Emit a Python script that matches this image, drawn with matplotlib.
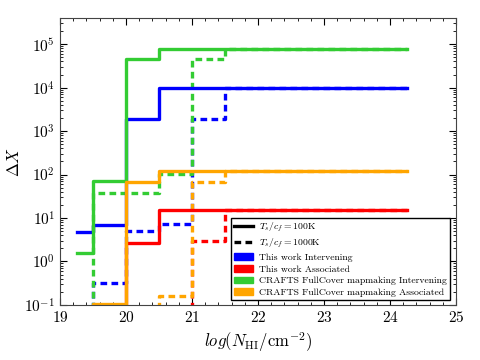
import numpy as np
import matplotlib
matplotlib.use("Agg")
import matplotlib.pyplot as plt
from matplotlib.lines import Line2D
from matplotlib.patches import Patch
from matplotlib.ticker import MultipleLocator

plt.rcParams['font.family'] = 'serif'
plt.rcParams['font.serif'] = ['cmr10', 'DejaVu Serif']
plt.rcParams['mathtext.fontset'] = 'cm'
plt.rcParams['axes.formatter.use_mathtext'] = True

# bin edges in log(N_HI)
edges = [19.25, 19.5, 20.0, 20.5, 21.0, 21.5, 24.25]

# values per bin (0.01 = below the plotted range)
this_int_100 = [4.7, 6.8, 1.9e3, 1.0e4, 1.0e4, 1.0e4]
this_ass_100 = [0.01, 0.01, 2.7, 15.5, 15.5, 15.5]
crafts_int_100 = [1.6, 70, 4.6e4, 7.8e4, 7.8e4, 7.8e4]
crafts_ass_100 = [0.01, 0.105, 69, 120, 120, 120]

this_int_1000 = [0.01, 0.32, 5.0, 7.2, 1.9e3, 1.0e4]
this_ass_1000 = [0.01, 0.01, 0.01, 0.01, 2.9, 15.5]
crafts_int_1000 = [0.01, 38, 38, 105, 4.6e4, 7.8e4]
crafts_ass_1000 = [0.01, 0.01, 0.01, 0.16, 69, 120]

names = ['This work Intervening', 'This work Associated',
         'CRAFTS FullCover mapmaking Intervening', 'CRAFTS FullCover mapmaking Associated']
colors = ['#0000ff', '#ff0000', '#33cc33', '#ffa500']
dash = (0, (2.0, 1.3))

fig = plt.figure(figsize=(4.8, 3.6), dpi=100)
ax = fig.add_axes([0.125, 0.153, 0.825, 0.797])

solid = [this_int_100, this_ass_100, crafts_int_100, crafts_ass_100]
dashed = [this_int_1000, this_ass_1000, crafts_int_1000, crafts_ass_1000]

for vals, c in zip(dashed, colors):
    ax.step(edges, vals + [vals[-1]], where='post', color=c, lw=2.4, ls=dash)
for vals, c in zip(solid, colors):
    ax.step(edges, vals + [vals[-1]], where='post', color=c, lw=2.4)

ax.set_yscale('log')
ax.set_xlim(19, 25)
ax.set_ylim(1e-1, 4e5)
ax.xaxis.set_minor_locator(MultipleLocator(0.2))
ax.tick_params(which='both', direction='in', top=True, right=True, labelsize=11)
ax.tick_params(which='major', length=5)
ax.tick_params(which='minor', length=2.5)
for s in ax.spines.values():
    s.set_color('#444444')

ax.set_xlabel(r'$log(N_{\rm HI}/{\rm cm}^{-2})$', fontsize=12)
ax.set_ylabel(r'$\Delta X$', fontsize=12, labelpad=2)

handles = [Line2D([], [], color='black', lw=2.4, ls='-'),
           Line2D([], [], color='black', lw=2.4, ls=dash)]
labels = [r'$T_s/c_f=100$K', r'$T_s/c_f=1000$K']
for n, c in zip(names, colors):
    handles.append(Patch(facecolor=c, edgecolor=c))
    labels.append(n)

leg = ax.legend(handles, labels, loc='lower right', bbox_to_anchor=(0.99, 0.01),
                fontsize=7, fancybox=False, framealpha=1, edgecolor='black',
                handlelength=1.9, handletextpad=0.7, borderpad=0.3,
                labelspacing=0.3, borderaxespad=0.2)
leg.get_frame().set_linewidth(1.0)

fig.savefig('out.png', dpi=100)
